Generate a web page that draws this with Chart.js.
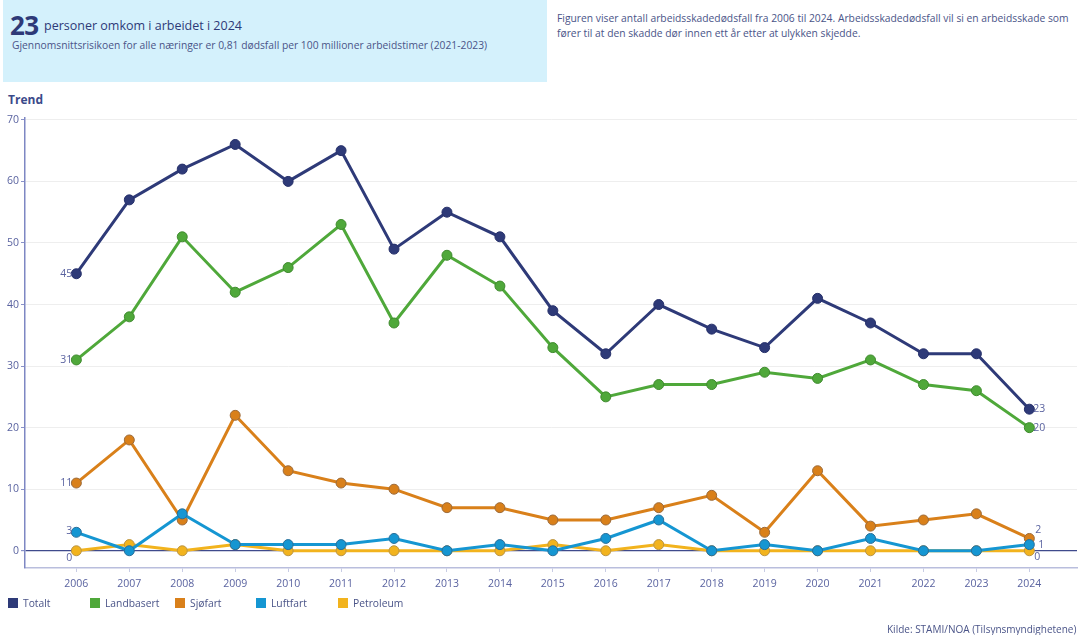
<!DOCTYPE html>
<html lang="no">
<head>
<meta charset="utf-8">
<title>Arbeidsskadedødsfall 2006–2024</title>
<script src="https://cdn.jsdelivr.net/npm/chart.js@4/dist/chart.umd.min.js"></script>
<style>
  html, body { margin: 0; padding: 0; background: #fff; }
  body { width: 1083px; height: 635px; position: relative; overflow: hidden;
         font-family: "Open Sans", "Noto Sans", sans-serif; color: #3b4680; }
  #chart { position: absolute; left: 0; top: 0; }
  .box { position: absolute; left: 3px; top: 0; width: 544px; height: 82px; background: #d4f1fc; }
  .big { position: absolute; left: 10px; top: 7px; font-size: 26px; font-weight: 700; color: #2e3a78; letter-spacing: -0.5px; }
  .head { position: absolute; left: 44px; top: 17px; font-size: 12.5px; color: #2e3a78; }
  .sub { position: absolute; left: 12px; top: 38px; font-size: 10.3px; color: #4a5488; }
  .note { position: absolute; left: 557px; top: 11px; width: 530px; font-size: 10.3px; line-height: 15px; color: #4a5488; }
  .trend { position: absolute; left: 8px; top: 91px; font-size: 12px; font-weight: 700; color: #3b4a8a; }
  .legend { position: absolute; top: 596px; left: 0; height: 14px; }
  .legend span { position: absolute; top: 0; white-space: nowrap; font-size: 10.3px; color: #4a5488; }
  .legend i { display: inline-block; width: 10px; height: 10px; margin-right: 5px; vertical-align: -1px; }
  .src { position: absolute; left: 887px; top: 622px; font-size: 10px; color: #4a5488; white-space: nowrap; }
</style>
</head>
<body>
<div class="box"></div>
<div class="big">23</div>
<div class="head">personer omkom i arbeidet i 2024</div>
<div class="sub">Gjennomsnittsrisikoen for alle næringer er 0,81 dødsfall per 100 millioner arbeidstimer (2021-2023)</div>
<div class="note">Figuren viser antall arbeidsskadedødsfall fra 2006 til 2024. Arbeidsskadedødsfall vil si en arbeidsskade som fører til at den skadde dør innen ett år etter at ulykken skjedde.</div>
<div class="trend">Trend</div>
<canvas id="chart" width="1083" height="635"></canvas>
<div class="legend" id="legend"></div>
<div class="src">Kilde: STAMI/NOA (Tilsynsmyndighetene)</div>
<script>
// Årstall og antall arbeidsskadedødsfall per næring
const years = [2006, 2007, 2008, 2009, 2010, 2011, 2012, 2013, 2014, 2015, 2016, 2017, 2018, 2019, 2020, 2021, 2022, 2023, 2024];
const totalt     = [45, 57, 62, 66, 60, 65, 49, 55, 51, 39, 32, 40, 36, 33, 41, 37, 32, 32, 23];
const landbasert = [31, 38, 51, 42, 46, 53, 37, 48, 43, 33, 25, 27, 27, 29, 28, 31, 27, 26, 20];
const sjofart    = [11, 18, 5, 22, 13, 11, 10, 7, 7, 5, 5, 7, 9, 3, 13, 4, 5, 6, 2];
const luftfart   = [3, 0, 6, 1, 1, 1, 2, 0, 1, 0, 2, 5, 0, 1, 0, 2, 0, 0, 1];
const petroleum  = [0, 1, 0, 1, 0, 0, 0, 0, 0, 1, 0, 1, 0, 0, 0, 0, 0, 0, 0];
const yTicks = [0, 10, 20, 30, 40, 50, 60, 70];

const series = [
  { label: 'Totalt',     data: totalt,     color: '#2e3a78', border: '#26306a', order: 1, legendX: 8 },
  { label: 'Landbasert', data: landbasert, color: '#4fa83a', border: '#3f8a2e', order: 2, legendX: 90 },
  { label: 'Sjøfart',    data: sjofart,    color: '#d9801a', border: '#9b6a3a', order: 4, legendX: 175 },
  { label: 'Luftfart',   data: luftfart,   color: '#1596d2', border: '#2a6e98', order: 3, legendX: 256 },
  { label: 'Petroleum',  data: petroleum,  color: '#f2b31d', border: '#b99444', order: 5, legendX: 338 }
];

// Placement of the value labels at the first and last year
const endLabels = {
  'Totalt':     { first: [-4, 0, 'right'], last: [4, 0, 'left'] },
  'Landbasert': { first: [-4, 0, 'right'], last: [4, 0, 'left'] },
  'Sjøfart':    { first: [-4, 0, 'right'], last: [6, -8, 'left'] },
  'Luftfart':   { first: [-4, -1, 'right'], last: [9, 0, 'left'] },
  'Petroleum':  { first: [-4, 7, 'right'], last: [5, 6, 'left'] }
};

const endLabelPlugin = {
  id: 'endLabels',
  afterDatasetsDraw(chart) {
    const ctx = chart.ctx;
    ctx.save();
    ctx.font = '10.5px "Open Sans", "Noto Sans", sans-serif';
    ctx.fillStyle = '#5a63a0';
    ctx.textBaseline = 'middle';
    chart.data.datasets.forEach((ds, i) => {
      const meta = chart.getDatasetMeta(i);
      const cfg = endLabels[ds.label];
      const pts = meta.data;
      [['first', 0], ['last', pts.length - 1]].forEach(([key, idx]) => {
        const p = pts[idx];
        const [dx, dy, align] = cfg[key];
        ctx.textAlign = align;
        ctx.fillText(String(ds.data[idx].y), p.x + dx, p.y + dy);
      });
    });
    ctx.restore();
  }
};

const chart = new Chart(document.getElementById('chart'), {
  type: 'line',
  data: {
    datasets: series.map(s => ({
      label: s.label,
      data: s.data.map((v, i) => ({ x: years[i], y: v })),
      borderColor: s.color,
      backgroundColor: s.color,
      pointBackgroundColor: s.color,
      pointBorderColor: s.border,
      pointBorderWidth: 1,
      pointRadius: 5,
      borderWidth: 3,
      tension: 0,
      order: s.order
    }))
  },
  options: {
    responsive: false,
    animation: false,
    events: [],
    layout: { padding: { top: 118, left: 0, right: 0, bottom: 37 } },
    plugins: { legend: { display: false }, tooltip: { enabled: false } },
    scales: {
      x: {
        type: 'linear',
        min: 2005.03,
        max: 2024.9,
        afterBuildTicks: axis => { axis.ticks = years.map(v => ({ value: v })); },
        afterFit: axis => { axis.height = 30; },
        grid: { display: true, drawOnChartArea: false, tickLength: 4, color: '#c8cce4' },
        border: { display: true, color: '#b9bedd', width: 1.5 },
        ticks: {
          padding: 6,
          color: '#5a63a0',
          font: { family: '"Open Sans", "Noto Sans", sans-serif', size: 10.5 },
          callback: v => String(v)
        }
      },
      y: {
        min: -2.8,
        max: 70.3,
        afterBuildTicks: axis => { axis.ticks = yTicks.map(v => ({ value: v })); },
        afterFit: axis => { axis.width = 25; },
        grid: {
          color: ctx => ctx.tick && ctx.tick.value === 0 ? '#3f4a8c' : '#eeeeee',
          lineWidth: ctx => ctx.tick && ctx.tick.value === 0 ? 1.2 : 1,
          tickColor: '#8a92c8',
          tickLength: 4
        },
        border: { display: true, color: '#7e87c3', width: 1.5 },
        ticks: {
          padding: 2,
          color: '#5a63a0',
          font: { family: '"Open Sans", "Noto Sans", sans-serif', size: 10.5 }
        }
      }
    }
  },
  plugins: [endLabelPlugin]
});

// Legend row under the x axis
const legend = document.getElementById('legend');
series.forEach(s => {
  const el = document.createElement('span');
  el.style.left = s.legendX + 'px';
  el.innerHTML = '<i style="background:' + s.color + '"></i>' + s.label;
  legend.appendChild(el);
});
</script>
</body>
</html>
